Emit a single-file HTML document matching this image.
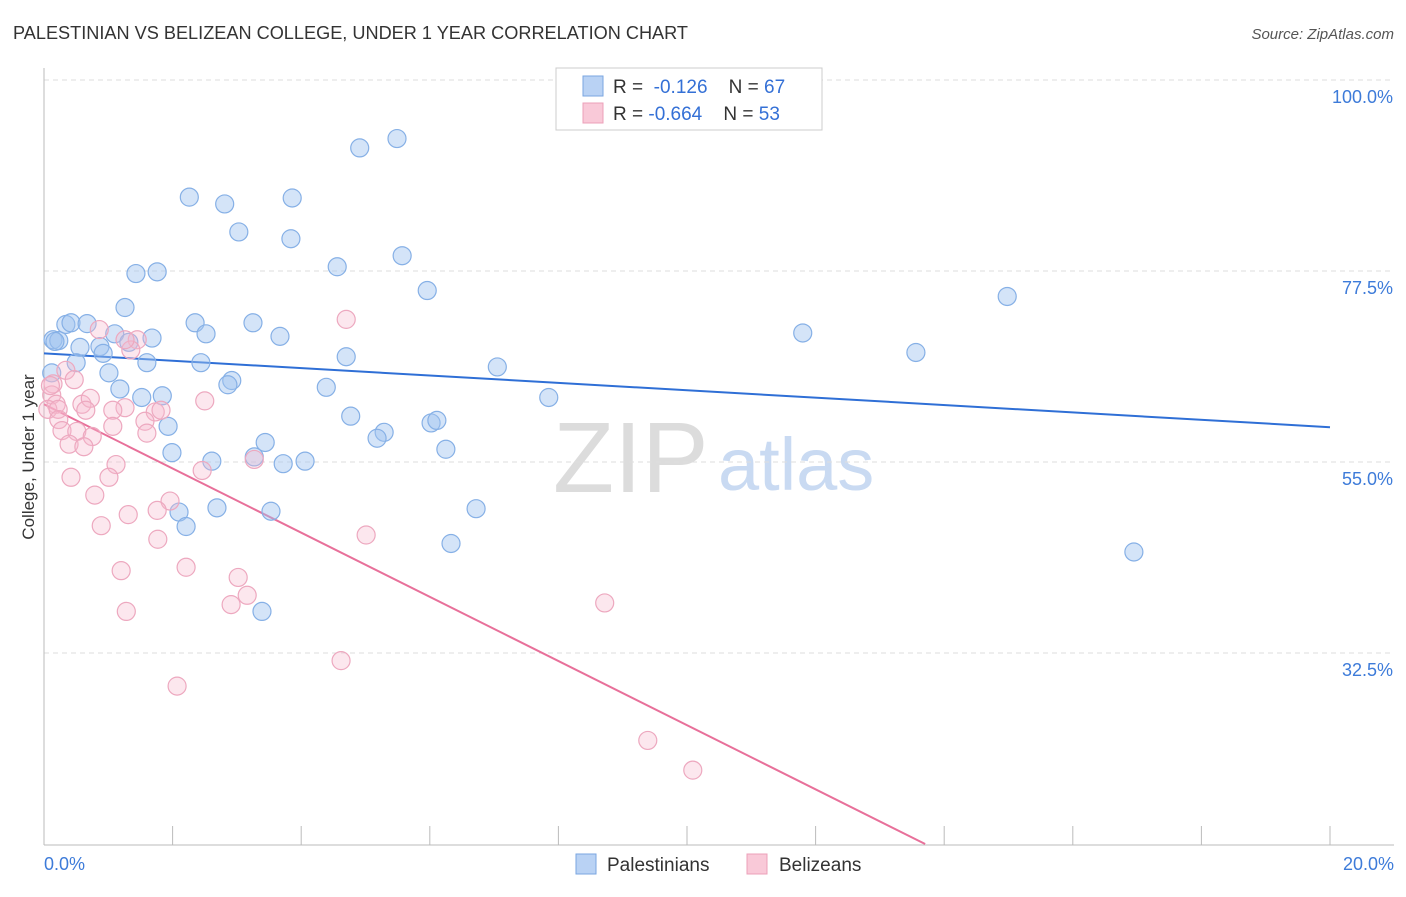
<!DOCTYPE html>
<html><head><meta charset="utf-8"><style>
body{margin:0;background:#fff;font-family:"Liberation Sans",sans-serif;}
svg text{font-family:"Liberation Sans",sans-serif;}
</style></head><body>
<svg id="chart" width="1406" height="892" viewBox="0 0 1406 892" xmlns="http://www.w3.org/2000/svg">
<text x="13" y="39" font-size="18" fill="#333" textLength="675" lengthAdjust="spacingAndGlyphs">PALESTINIAN VS BELIZEAN COLLEGE, UNDER 1 YEAR CORRELATION CHART</text>
<text x="1394" y="39" font-size="15" fill="#555" font-style="italic" text-anchor="end">Source: ZipAtlas.com</text>
<g>
<text x="553" y="492" font-size="100" fill="#dcdcdc" font-family="Liberation Serif,serif">ZIP</text>
<text x="718" y="490" font-size="74" fill="#c9daf2">atlas</text>
</g>
<g id="grid"></g>
<g id="axes"></g>
<g id="trend"></g>
<g id="points"></g>
<g>
<rect x="556" y="68" width="266" height="62" fill="#fff" stroke="#ccc"/>
<rect x="583" y="76" width="20" height="20" fill="#b9d2f4" stroke="#7aa6e0"/>
<rect x="583" y="103" width="20" height="20" fill="#f9c9d8" stroke="#eca0b9"/>
<text x="613" y="93" font-size="19" fill="#333">R = <tspan fill="#3470d6">&#160;-0.126</tspan>&#160;&#160;&#160;&#160;N = <tspan fill="#3470d6">67</tspan></text>
<text x="613" y="120" font-size="19" fill="#333">R = <tspan fill="#3470d6">-0.664</tspan>&#160;&#160;&#160;&#160;N = <tspan fill="#3470d6">53</tspan></text>
</g>
<g>
<rect x="576" y="854" width="20" height="20" fill="#b9d2f4" stroke="#7aa6e0"/>
<text x="607" y="871" font-size="19" fill="#333">Palestinians</text>
<rect x="747" y="854" width="20" height="20" fill="#f9c9d8" stroke="#eca0b9"/>
<text x="779" y="871" font-size="19" fill="#333">Belizeans</text>
</g>
<text transform="translate(34,457) rotate(-90)" font-size="17" fill="#333" text-anchor="middle">College, Under 1 year</text>
</svg>
<script>
const yTicks=[100,77.5,55,32.5];
const yTickLabels=["100.0%","77.5%","55.0%","32.5%"];
const xTickLabels=["0.0%","20.0%"];
const blueX=[5.49,4.91,2.26,2.81,3.86,3.03,3.84,5.57,4.56,1.43,1.76,5.96,14.98,1.26,0.34,0.42,0.67,2.35,3.25,1.10,1.68,2.52,3.67,11.80,0.14,0.23,0.56,0.87,0.92,1.32,1.60,2.44,0.50,4.70,13.56,7.05,1.01,2.92,2.86,1.18,4.39,1.52,1.84,7.85,4.77,1.93,6.02,6.11,5.29,5.18,3.44,6.25,1.99,3.27,2.61,3.72,4.06,2.10,2.69,3.53,2.21,6.72,6.33,16.95,3.39,0.12,0.17];
const blueY=[93.1,92.0,86.2,85.4,86.1,82.1,81.3,79.3,78.0,77.2,77.4,75.2,74.5,73.2,71.2,71.4,71.3,71.4,71.4,70.1,69.6,70.1,69.8,70.2,69.4,69.3,68.5,68.6,67.8,69.1,66.7,66.7,66.7,67.4,67.9,66.2,65.5,64.6,64.1,63.6,63.8,62.6,62.8,62.6,60.4,59.2,59.6,59.9,58.5,57.8,57.3,56.5,56.1,55.6,55.1,54.8,55.1,49.1,49.6,49.2,47.4,49.5,45.4,44.4,37.4,65.5,69.2];
const pinkX=[4.70,0.86,1.45,1.35,1.26,0.34,0.47,0.14,0.12,0.19,0.06,0.22,0.59,0.72,0.65,1.26,1.07,2.50,1.73,1.82,0.23,0.28,0.51,0.75,1.07,1.57,1.60,0.39,0.62,1.12,3.27,2.46,0.42,1.01,0.79,1.96,0.89,1.31,1.76,1.77,5.01,1.20,2.21,3.02,3.16,2.91,1.28,8.72,4.62,2.07,9.39,10.09,0.10];
const pinkY=[71.8,70.6,69.4,68.2,69.4,65.8,64.7,64.2,62.9,61.8,61.2,61.2,61.8,62.5,61.1,61.4,61.1,62.2,60.9,61.1,60.0,58.7,58.6,58.0,59.2,59.8,58.4,57.1,56.8,54.7,55.3,54.0,53.2,53.2,51.1,50.4,47.5,48.8,49.3,45.9,46.4,42.2,42.6,41.4,39.3,38.2,37.4,38.4,31.6,28.6,22.2,18.7,64.0];
const blueTrend=[67.8,59.1];
const pinkTrend=[61.8,-3.78];
const X0=44,X1=1330,XR=1394,YT=68,YB=845;
const sx=v=>X0+(v/20)*(X1-X0);
const sy=v=>80+(100-v)*(653-80)/67.5;
const NS="http://www.w3.org/2000/svg";
function mk(t,a,p){const e=document.createElementNS(NS,t);for(const k in a)e.setAttribute(k,a[k]);p.appendChild(e);return e;}
const grid=document.getElementById('grid');
yTicks.forEach((v,i)=>{
 const l=mk('line',{x1:X0,x2:XR,y1:sy(v),y2:sy(v),stroke:'#dedede','stroke-dasharray':'5,4'},grid);
 
 
 const t=mk('text',{x:1393,y:sy(v)+23,'font-size':18,fill:'#3d7bd9','text-anchor':'end'},grid);
 t.textContent=yTickLabels[i];
 
 
});
const axes=document.getElementById('axes');
const ya=mk('line',{x1:X0,x2:X0,y1:YT,y2:YB,stroke:'#bbb'},axes);


const xa=mk('line',{x1:X0,x2:XR,y1:YB,y2:YB,stroke:'#bbb'},axes);


for(let i=1;i<=10;i++){
 const tk=mk('line',{x1:sx(i*2),x2:sx(i*2),y1:826,y2:YB,stroke:'#bbb'},axes);
 
 
}
const xl0=mk('text',{x:X0,y:870,'font-size':18,fill:'#3d7bd9'},axes);xl0.textContent=xTickLabels[0];


const xl1=mk('text',{x:1394,y:870,'font-size':18,fill:'#3d7bd9','text-anchor':'end'},axes);xl1.textContent=xTickLabels[1];


const pts=document.getElementById('points');
blueX.forEach((x,i)=>{
 const c=mk('circle',{cx:sx(x),cy:sy(blueY[i]),r:9,fill:'rgba(160,195,240,0.45)',stroke:'#86b0e6','stroke-width':1.2},pts);
 
 
});
pinkX.forEach((x,i)=>{
 const c=mk('circle',{cx:sx(x),cy:sy(pinkY[i]),r:9,fill:'rgba(246,185,205,0.35)',stroke:'#eda8bf','stroke-width':1.2},pts);
 
 
});
const tr=document.getElementById('trend');
const bl=mk('line',{x1:sx(0),y1:sy(blueTrend[0]),x2:sx(20),y2:sy(blueTrend[1]),stroke:'#2f6fd6','stroke-width':2},tr);


const xEnd=Math.min(20,(pinkTrend[0]-10)/(-pinkTrend[1]));
const pl=mk('line',{x1:sx(0),y1:sy(pinkTrend[0]),x2:sx(xEnd),y2:sy(pinkTrend[0]+pinkTrend[1]*xEnd),stroke:'#e8709a','stroke-width':2},tr);


</script>
</body></html>
